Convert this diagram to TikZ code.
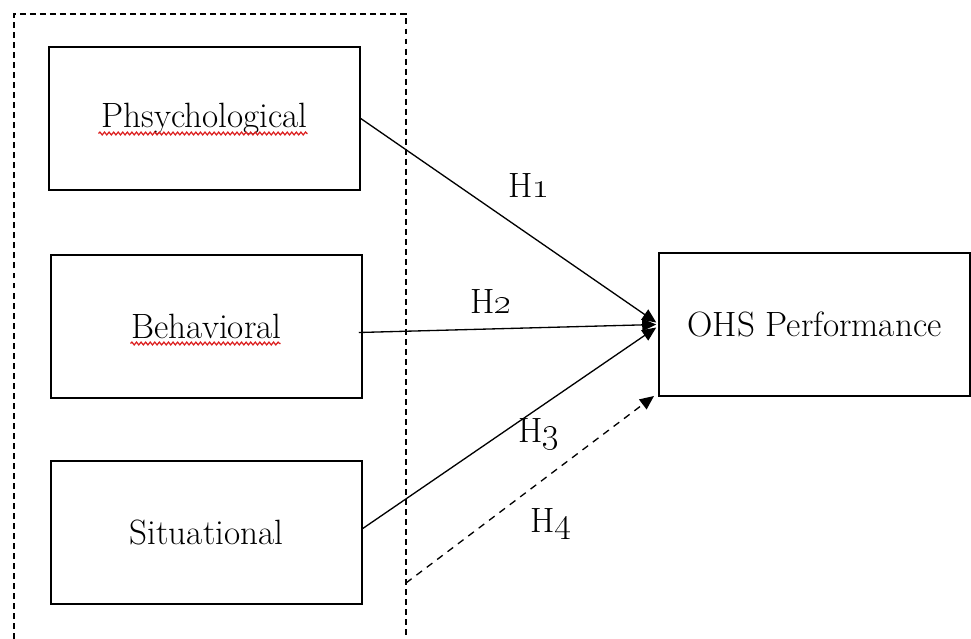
\documentclass[tikz,border=0pt]{standalone}
\usepackage{tikz}
\usetikzlibrary{arrows.meta,calc,decorations.pathmorphing,positioning}
\definecolor{spellred}{RGB}{220,30,30}
\tikzset{
  factor/.style={draw,line width=.9pt,minimum width=6.22cm,minimum height=2.86cm,inner sep=0pt},
  hyp/.style={line width=.75pt,-{Triangle[length=8pt,width=7pt]}},
  hlabel/.style={inner sep=1pt},
  squiggle/.style={spellred,line width=.7pt,decorate,
    decoration={snake,amplitude=.8pt,segment length=2.6pt}}
}
\newcommand{\hnum}[1]{H\oldstylenums{#1}}
\begin{document}
\begin{tikzpicture}[x=.02cm,y=-.02cm,font=\fontsize{20}{24}\selectfont]
    \useasboundingbox (0,0) rectangle (971,639);
    % grouping of the three factors
    \draw[line width=.8pt,dash pattern=on 3.4pt off 2.3pt] (14,639) -- (14,14) -- (406,14) -- (406,639);
    \node[factor] (psy) at (204.5,118.5) {Phsychological};
    \node[factor] (beh) at (206.5,326.5) {Behavioral};
    \node[factor] (sit) at (206.5,532.5) {Situational};
    \node[factor] (ohs) at (814.5,324.5) {OHS Performance};
    \draw[squiggle] ($(psy.center)+(-106,15)$) -- ($(psy.center)+(103,15)$);
    \draw[squiggle] ($(beh.center)+(-76,17)$) -- ($(beh.center)+(74,17)$);
    \coordinate (dstart) at (406,583);
    \coordinate (dend) at (654,396);
    \draw[hyp] (psy.east) -- ($(ohs.west)+(-2,-2)$);
    \draw[hyp] ($(beh.east)+(-4,6)$) -- ($(ohs.west)+(-2,0)$);
    \draw[hyp] ($(sit.east)+(0,-4)$) -- ($(ohs.west)+(-2,3)$);
    \draw[hyp,dash pattern=on 4pt off 3.4pt] (dstart) -- (dend);
    \node[hlabel] (h1) at (529,185) {\hnum{1}};
    \node[hlabel] (h2) at (491,301) {\hnum{2}};
    \node[hlabel] (h3) at (539,434) {\hnum{3}};
    \node[hlabel] (h4) at (551,524) {\hnum{4}};
\end{tikzpicture}
\end{document}
